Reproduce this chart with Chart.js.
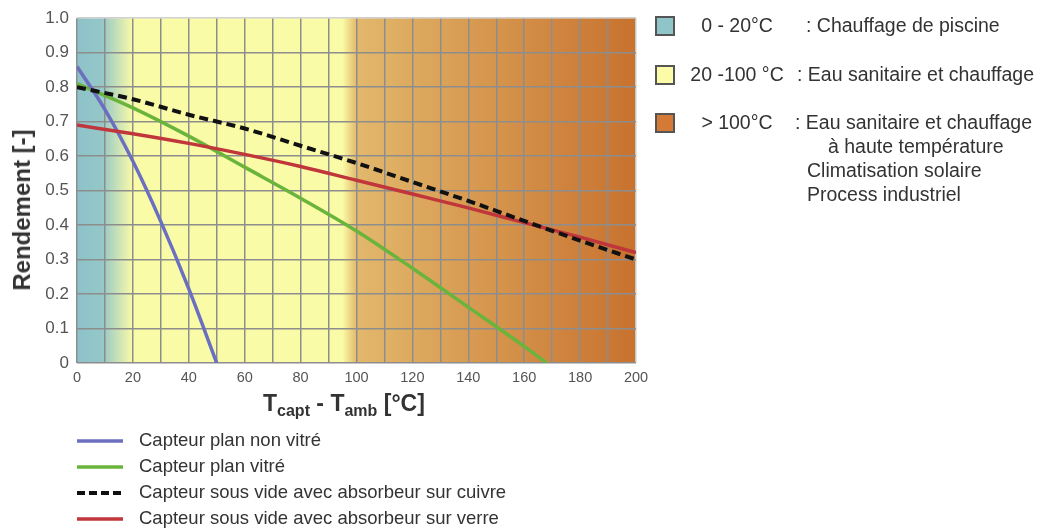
<!DOCTYPE html>
<html>
<head>
<meta charset="utf-8">
<script src="https://cdn.jsdelivr.net/npm/chart.js@4.4.1/dist/chart.umd.min.js"></script>
<style>
    body { margin: 0; background: #fff; }
    #wrap { position: relative; width: 1040px; height: 531px; font-family: "Liberation Sans", Arial, sans-serif; color: #333; }
    #wrap canvas { position: absolute; left: 0; top: 0; }
    .txt { position: absolute; white-space: pre; line-height: 24px; font-size: 19.5px; }
    .box { position: absolute; left: 655px; width: 20px; height: 20px; box-sizing: border-box; border: 2px solid #555; }
    .leg { position: absolute; left: 76px; white-space: pre; font-size: 18.5px; line-height: 26px; }
    .leg svg { position: absolute; left: 0; top: 11px; }
    .leg span { position: absolute; left: 63px; top: 0; }
    #ytitle { position: absolute; left: 22px; top: 210px; transform: translate(-50%, -50%) rotate(-90deg); font-weight: bold; font-size: 24px; white-space: nowrap; color: #333; }
    #xtitle { position: absolute; left: 263px; top: 392px; font-weight: bold; font-size: 23px; line-height: 23px; white-space: nowrap; color: #333; }
    #xtitle sub { font-size: 16px; vertical-align: -5px; }
</style>
</head>
<body>
<div id="wrap">
    <canvas id="chart" width="1040" height="531"></canvas>
    <div id="ytitle">Rendement [-]</div>
    <div id="xtitle">T<sub>capt</sub> - T<sub>amb</sub> [°C]</div>
    <div id="zones"></div>
    <div id="legend"></div>
</div>
<script>
// series: temperature difference (°C) and efficiency
const planNonVitreT = [0, 10, 20, 30, 40, 50];
const planNonVitreR = [0.86, 0.735, 0.585, 0.41, 0.215, 0];

const planVitreT = [0, 20, 40, 60, 80, 100, 120, 140, 160, 168];
const planVitreR = [0.81, 0.74, 0.658, 0.568, 0.478, 0.383, 0.275, 0.162, 0.048, 0];

const cuivreT = [0, 20, 40, 60, 80, 100, 120, 140, 160, 180, 200];
const cuivreR = [0.80, 0.765, 0.72, 0.68, 0.63, 0.58, 0.525, 0.47, 0.412, 0.355, 0.30];

const verreT = [0, 20, 40, 60, 80, 100, 120, 140, 160, 180, 200];
const verreR = [0.69, 0.665, 0.637, 0.605, 0.57, 0.53, 0.49, 0.45, 0.407, 0.365, 0.32];

const seriesNames = [
    "Capteur plan non vitré",
    "Capteur plan vitré",
    "Capteur sous vide avec absorbeur sur cuivre",
    "Capteur sous vide avec absorbeur sur verre"
];
const seriesColors = ["#6b6fc0", "#6ab43c", "#111111", "#c0363a"];

// temperature zones
const zoneRanges = ["0 - 20°C", "20 -100 °C", "> 100°C"];
const zoneUses = [
    [": Chauffage de piscine"],
    [": Eau sanitaire et chauffage"],
    [": Eau sanitaire et chauffage", "à haute température", "Climatisation solaire", "Process industriel"]
];
const zoneColors = ["#8fc5c8", "#fbfba8", "#d47a36"];

function pts(xs, ys) {
    return xs.map((x, i) => ({ x: x, y: ys[i] }));
}

const zoneBackground = {
    id: "zoneBackground",
    beforeDraw(chart) {
        const { ctx, chartArea: a, scales } = chart;
        const x0 = scales.x.getPixelForValue(0);
        const x1 = scales.x.getPixelForValue(200);
        const f = v => (scales.x.getPixelForValue(v) - x0) / (x1 - x0);
        const g = ctx.createLinearGradient(x0, 0, x1, 0);
        g.addColorStop(0, "#8cc2c9");
        g.addColorStop(f(9), "#95c7c8");
        g.addColorStop(f(20), "#fafba7");
        g.addColorStop(f(95), "#fafba6");
        g.addColorStop(f(100), "#e2b86c");
        g.addColorStop(f(150), "#d5944c");
        g.addColorStop(1, "#c8722f");
        ctx.save();
        ctx.fillStyle = g;
        ctx.fillRect(a.left, a.top, a.right - a.left, a.bottom - a.top);
        ctx.restore();
    }
};

const tickFont = { family: "'Liberation Sans', Arial, sans-serif" };

new Chart(document.getElementById("chart"), {
    type: "line",
    data: {
        datasets: [
            { label: seriesNames[0], data: pts(planNonVitreT, planNonVitreR), borderColor: seriesColors[0], borderWidth: 3.5, order: 3 },
            { label: seriesNames[1], data: pts(planVitreT, planVitreR), borderColor: seriesColors[1], borderWidth: 3.5, order: 4 },
            { label: seriesNames[2], data: pts(cuivreT, cuivreR), borderColor: seriesColors[2], borderWidth: 4, borderDash: [9, 5], order: 1 },
            { label: seriesNames[3], data: pts(verreT, verreR), borderColor: seriesColors[3], borderWidth: 3.5, order: 2 }
        ]
    },
    options: {
        responsive: false,
        animation: false,
        layout: { padding: { top: 16, right: 404, left: 0, bottom: 0 } },
        elements: {
            point: { radius: 0 },
            line: { cubicInterpolationMode: "monotone", fill: false }
        },
        plugins: { legend: { display: false }, tooltip: { enabled: false } },
        scales: {
            x: {
                type: "linear", min: 0, max: 200,
                afterFit: s => { s.height = 168; },
                border: { display: false },
                grid: {
                    drawTicks: false, lineWidth: 1.5,
                    color: c => (c.tick && c.tick.value === 200) ? "#c8c8c8" : "#8d8d8d"
                },
                ticks: {
                    stepSize: 10, autoSkip: false, maxRotation: 0, padding: 6,
                    color: "#555", font: { ...tickFont, size: 14.5 },
                    callback: v => v % 20 === 0 ? String(v) : ""
                }
            },
            y: {
                min: 0, max: 1,
                afterFit: s => { s.width = 77; },
                border: { display: false },
                grid: {
                    drawTicks: false, lineWidth: 1.5,
                    color: c => (c.tick && c.tick.value === 1) ? "#d0d0d0" : "#8d8d8d"
                },
                ticks: {
                    stepSize: 0.1, padding: 8,
                    color: "#555", font: { ...tickFont, size: 17 },
                    callback: v => v === 0 ? "0" : v.toFixed(1)
                }
            }
        }
    },
    plugins: [zoneBackground]
});

// zone legend on the right
const zoneRowY = [25, 74, 122];
const zoneColonX = [806, 797, 795];
const extraX = [828, 807, 807];
let zhtml = "";
zoneRanges.forEach((r, i) => {
    const cy = zoneRowY[i];
    zhtml += `<div class="box" style="top:${cy - 9}px;background:${zoneColors[i]}"></div>`;
    zhtml += `<div class="txt" style="left:687px;width:100px;text-align:center;top:${cy - 12}px">${r}</div>`;
    zoneUses[i].forEach((u, j) => {
        const left = j === 0 ? zoneColonX[i] : extraX[j - 1];
        zhtml += `<div class="txt" style="left:${left}px;top:${cy - 12 + j * 24}px">${u}</div>`;
    });
});
document.getElementById("zones").innerHTML = zhtml;

// series legend below
const legRowY = [440, 466, 492, 518];
let lhtml = "";
seriesNames.forEach((n, i) => {
    const dash = i === 2 ? 'stroke-dasharray="8 4"' : "";
    lhtml += `<div class="leg" style="top:${legRowY[i] - 13}px">` +
        `<svg width="48" height="6"><line x1="1" y1="3" x2="47" y2="3" stroke="${seriesColors[i]}" stroke-width="${i === 2 ? 4 : 3.5}" ${dash}/></svg>` +
        `<span>${n}</span></div>`;
});
document.getElementById("legend").innerHTML = lhtml;
</script>
</body>
</html>
